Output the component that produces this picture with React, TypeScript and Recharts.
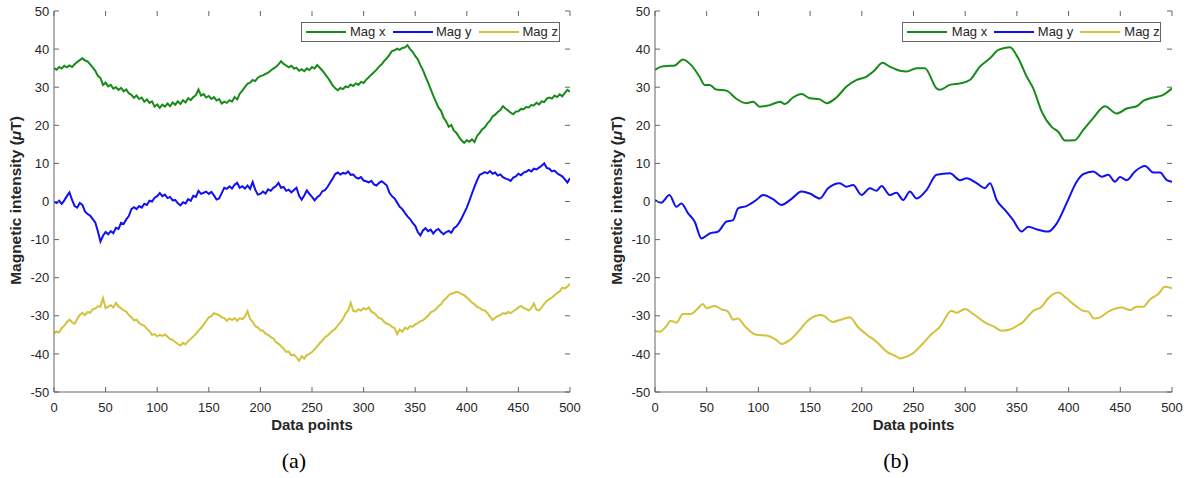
import React from 'react';
import { LineChart, Line, XAxis, YAxis, Legend, Label } from 'recharts';

// ---------- axis ticks ----------
const X_TICKS = [0, 50, 100, 150, 200, 250, 300, 350, 400, 450, 500];
const Y_TICKS = [-50, -40, -30, -20, -10, 0, 10, 20, 30, 40, 50];

// ---------- panel (a): raw samples, read every 2.5 data points ----------
const leftX = Array.from({ length: 201 }, (_, i) => i * 2.5);

const leftMagX = [
  35.0, 34.6, 35.3, 34.9, 35.6, 35.2, 35.7, 35.3, 36.0, 36.6, 37.1, 37.6, 37.0, 36.8, 36.0, 35.2, 34.3, 33.0, 32.4, 30.6,
  31.2, 30.2, 30.6, 29.6, 30.0, 29.3, 29.8, 28.9, 29.4, 28.4, 28.0, 27.2, 27.8, 26.9, 27.3, 26.2, 26.8, 25.9, 26.3, 24.9,
  25.5, 24.6, 25.4, 24.9, 25.7, 25.0, 26.0, 25.4, 26.3, 25.6, 26.6, 26.0, 27.1, 26.6, 27.4, 27.9, 29.4, 27.8, 28.2, 27.3,
  27.7, 26.9, 27.4, 26.5, 26.9, 25.7, 26.2, 25.9, 26.6, 26.2, 27.4, 26.8, 28.3, 29.1, 30.0, 30.9, 31.2, 31.9, 31.6, 32.5,
  32.9, 33.1, 33.5, 33.8, 34.4, 34.9, 35.3, 36.0, 36.8, 36.1, 35.7, 35.2, 35.6, 34.9, 35.1, 34.3, 34.7, 34.2, 34.9, 34.5,
  35.3, 34.9, 35.8, 35.1, 34.4, 33.5, 32.6, 31.6, 30.5, 29.7, 29.2, 29.8, 29.5, 30.2, 30.0, 30.7, 30.3, 31.0, 30.6, 31.4,
  31.1, 32.0, 32.6, 33.3, 33.9, 34.6, 35.4, 36.0, 36.9, 37.6, 38.5, 39.5, 39.7, 40.1, 39.8, 40.3, 40.4, 41.0, 40.0, 39.3,
  38.2, 37.3, 35.8, 34.5, 32.8, 31.2, 29.5, 27.8, 26.2, 24.7, 23.8, 22.0, 21.0, 19.6, 20.1, 18.6, 18.0, 16.9, 16.0, 15.4,
  16.1, 15.7, 16.3, 15.6, 17.2, 18.0, 19.0, 19.5, 20.5, 21.2, 22.3, 22.8, 23.5, 24.0, 25.0, 24.4, 23.9, 23.3, 22.9, 23.6,
  23.7, 24.3, 24.2, 24.8, 24.7, 25.3, 25.2, 25.9, 25.5, 26.3, 26.1, 27.0, 27.3, 27.0, 27.8, 27.4, 28.1, 27.6, 28.5, 29.3,
  28.8,
];

const leftMagY = [
  0.0, -0.4, 0.2, -0.6, 0.3, 1.4, 2.4, 0.4, -1.2, -1.6, -0.4, -0.9, -2.6, -3.3, -3.7, -4.6, -5.5, -7.8, -10.5, -9.0,
  -8.0, -8.6, -7.8, -8.3, -6.9, -7.2, -5.6, -5.9, -4.7, -3.8, -2.0, -1.5, -2.0, -1.2, -1.6, -0.6, -0.9, 0.2, 0.0, 1.0,
  1.4, 2.2, 1.4, 1.8, 0.9, 1.2, 0.3, 0.4, -0.5, -1.0, -0.2, -0.5, 0.6, 0.2, 1.5, 1.2, 2.8, 2.0, 2.3, 2.6,
  2.0, 2.5, 1.6, 0.5, 0.8, 2.2, 3.6, 3.3, 4.0, 3.4, 4.4, 4.9, 3.6, 4.0, 3.4, 4.2, 3.3, 5.1, 3.1, 1.8,
  2.0, 2.6, 2.1, 3.2, 2.8, 3.6, 4.0, 4.9, 3.6, 3.8, 2.8, 3.1, 2.4, 3.0, 3.6, 1.5, 0.5, 1.6, 2.9, 2.0,
  1.2, 0.3, 1.1, 1.6, 2.7, 3.0, 3.8, 4.9, 6.0, 7.2, 7.6, 7.1, 7.5, 7.3, 7.9, 7.0, 7.1, 6.3, 6.0, 6.4,
  5.5, 5.3, 5.0, 5.4, 4.5, 4.2, 4.9, 5.3, 4.8, 4.2, 2.3, 1.4, 0.8, -0.3, -1.4, -2.0, -3.0, -3.9, -4.6, -5.6,
  -6.4, -8.0, -8.9, -7.6, -7.0, -7.8, -7.4, -8.4, -7.6, -7.2, -8.0, -8.6, -8.0, -7.7, -8.2, -7.0, -6.5, -5.6, -4.4, -3.0,
  -1.6, 0.2, 2.1, 3.9, 5.6, 7.0, 7.3, 7.7, 7.4, 8.0, 7.3, 7.6, 6.8, 7.1, 6.4, 6.0, 5.8, 5.4, 6.3, 6.6,
  7.3, 6.9, 7.6, 7.8, 8.3, 7.9, 8.6, 8.4, 8.9, 9.4, 10.0, 8.8, 8.6, 7.9, 8.1, 7.4, 7.0, 6.6, 5.8, 5.0,
  6.1,
];

const leftMagZ = [
  -34.6, -34.1, -34.4, -33.2, -32.6, -31.6, -31.0, -31.7, -32.1, -30.8, -29.8, -29.2, -29.8, -29.0, -29.2, -28.3, -28.1, -27.5, -27.6, -25.4,
  -28.0, -27.6, -27.2, -27.8, -26.6, -27.6, -28.0, -28.6, -28.9, -29.8, -30.4, -31.2, -31.0, -31.9, -32.3, -32.6, -33.4, -34.0, -35.0, -34.8,
  -35.4, -35.0, -35.3, -34.9, -35.5, -36.1, -36.3, -36.9, -37.4, -37.8, -37.1, -37.5, -36.6, -36.1, -35.4, -34.8, -33.9, -33.2, -32.3, -31.3,
  -30.4, -30.1, -29.3, -29.6, -29.8, -30.4, -30.6, -31.3, -30.7, -31.1, -30.6, -31.3, -30.6, -30.9, -30.2, -28.8, -30.8, -31.6, -32.7, -33.0,
  -33.8, -33.9, -34.7, -35.0, -35.6, -35.9, -36.9, -37.3, -38.0, -38.6, -39.5, -39.4, -40.4, -40.2, -40.9, -41.8, -40.6, -41.2, -40.3, -40.0,
  -39.5, -38.8, -38.0, -37.2, -36.5, -35.6, -35.2, -34.5, -33.9, -33.4, -32.5, -31.8, -30.8, -29.4, -28.6, -26.6, -28.7, -28.9, -28.3, -28.6,
  -28.0, -28.3, -27.8, -28.9, -29.2, -29.9, -30.6, -30.8, -31.6, -32.1, -32.3, -32.9, -33.2, -34.8, -33.6, -34.2, -33.1, -33.5, -32.7, -32.9,
  -32.2, -32.0, -31.4, -31.2, -30.6, -30.0, -29.1, -28.8, -28.3, -27.5, -27.0, -26.0, -25.4, -24.6, -24.2, -24.0, -23.7, -23.9, -24.3, -24.6,
  -25.2, -25.8, -26.5, -27.0, -27.7, -27.9, -28.5, -28.6, -29.3, -30.2, -31.1, -30.5, -30.1, -29.8, -29.3, -29.5, -29.0, -29.3, -28.8, -28.4,
  -27.8, -27.4, -27.9, -28.2, -28.6, -28.0, -26.8, -28.4, -28.6, -27.8, -26.9, -26.1, -25.6, -25.2, -24.6, -24.0, -23.6, -22.6, -22.8, -22.3,
  -21.6,
];

// ---------- panel (b): filtered signal, [data point, value] ----------
const rightMagX: [number, number][] = [
  [0, 34.5], [6, 35.4], [14, 35.6], [19, 35.7], [27, 37.3], [35, 35.8], [43, 32.8], [48, 30.6], [53, 30.6], [59, 29.4],
  [69, 29.1], [79, 26.9], [88, 25.8], [95, 26.2], [101, 24.9], [111, 25.3], [121, 26.2], [125.5, 25.6], [133.5, 27.3], [141.7, 28.2],
  [149.7, 27.1], [159.4, 26.8], [166, 25.8], [175.5, 27.3], [185, 30.1], [195, 31.9], [204.6, 32.8], [212.6, 34.5], [220, 36.4], [227, 35.4],
  [237, 34.3], [243.3, 34.1], [253, 35.0], [261, 35.0], [272.3, 29.7], [275.5, 29.3], [285.2, 30.6], [295, 31.0], [304.5, 31.9], [314.2, 35.4],
  [324, 37.6], [332, 39.8], [343.2, 40.5], [351.3, 37.6], [359.4, 32.8], [365.8, 29.7], [374, 23.6], [383.6, 19.6], [390, 18.3], [396.5, 16.0],
  [406, 16.1], [414.2, 18.8], [423.8, 21.9], [435.2, 25.0], [446.5, 23.1], [456.2, 24.4], [465.8, 25.0], [472.2, 26.4], [482, 27.3], [491.6, 28.0],
  [500, 29.7],
];

const rightMagY: [number, number][] = [
  [0, 0.4], [6, -0.3], [14, 1.7], [20.7, -1.4], [25.5, -0.5], [32, -3.1], [38.4, -5.3], [44.9, -9.7], [52.9, -8.4], [61, -7.9],
  [69, -5.3], [75.5, -4.9], [80.3, -1.8], [88.4, -1.2], [98, 0.4], [104.5, 1.7], [114.2, 0.6], [122.3, -0.9], [132, 0.7], [141.7, 2.6],
  [149.7, 2.1], [159.4, 0.8], [167.4, 3.5], [178.7, 4.8], [185.2, 3.9], [191.6, 4.3], [199.7, 1.7], [207.8, 3.5], [214.2, 2.8], [219.1, 4.1],
  [227.1, 1.7], [233.6, 2.3], [240, 0.4], [246.5, 2.6], [253, 0.8], [262.6, 3.0], [272.3, 7.0], [285.2, 7.4], [295, 5.6], [301.3, 6.1],
  [311, 4.8], [319, 3.5], [324, 4.8], [330.4, 0.4], [338.4, -2.2], [346.4, -4.9], [354.5, -7.9], [361, -6.6], [369, -7.3], [380.3, -7.9],
  [388.4, -5.8], [398, -0.5], [407.8, 5.2], [414.2, 7.2], [423.8, 7.9], [432, 6.5], [438.4, 7.0], [444.8, 5.2], [449.7, 6.4], [456.2, 5.6],
  [464.2, 7.9], [474, 9.3], [482, 7.6], [488.4, 7.6], [495, 5.6], [500, 5.2],
];

const rightMagZ: [number, number][] = [
  [0, -33.9], [4.5, -34.2], [11, -32.7], [15, -31.3], [20.7, -31.8], [27, -29.5], [35, -29.5], [40, -28.5], [46.4, -26.9], [49.7, -28.0],
  [57.8, -27.4], [64.2, -28.3], [70.6, -28.9], [75.5, -31.0], [80.3, -30.7], [86.8, -32.7], [98, -35.0], [107.8, -35.2], [117.5, -36.4], [122.3, -37.4],
  [130.3, -36.4], [140, -33.7], [146.5, -31.6], [154.5, -30.1], [161, -29.8], [172.2, -31.6], [178.7, -31.1], [188.4, -30.4], [196.4, -33.0], [204.6, -34.9],
  [214.2, -36.8], [224, -39.4], [233.6, -40.7], [237, -41.2], [243.3, -40.7], [249.7, -39.8], [259.3, -37.2], [267.5, -34.8], [275.5, -32.9], [286.8, -28.7],
  [291.7, -29.2], [299.7, -28.2], [307.7, -29.5], [320.7, -32.0], [327, -32.7], [335.2, -33.9], [343.2, -33.6], [349.7, -32.7], [356, -31.6], [365.8, -28.7],
  [374, -27.6], [380.3, -25.4], [390, -23.9], [398, -25.4], [406, -27.2], [414.2, -28.7], [419, -28.9], [424.5, -30.7], [430.3, -30.4], [438.4, -28.9],
  [451.3, -27.8], [459.4, -28.5], [465.8, -27.6], [472.2, -27.6], [478.7, -25.7], [486.7, -24.3], [493.2, -22.4], [500, -22.8],
];

const SERIES_NAMES = ['Mag x', 'Mag y', 'Mag z'];
const SERIES_COLORS = ['#178a17', '#1010f0', '#d2c23c'];

// ---------- styling ----------
const SANS = '"Liberation Sans", Arial, Helvetica, sans-serif';
const SERIF = '"Liberation Serif", "Times New Roman", serif';
const AXIS_COLOR = '#646464';
const TEXT_COLOR = '#262626';
const CHART_H = 478;
const PLOT_TOP = 11;
const PLOT_BOTTOM = 392;
const PLOT_LEFT = 54;
const Y_AXIS_W = 54;
const X_AXIS_H = 30;
const TICK_LEN = 5;

const leftRows = leftX.map((x, i) => ({ x, mx: leftMagX[i], my: leftMagY[i], mz: leftMagZ[i] }));
const toPts = (arr: [number, number][]) => arr.map(([x, v]) => ({ x, v }));

const YLabel = (props: any) => {
  const vb = props.viewBox || {};
  const cx = (vb.x || 0) + 21;
  const cy = (vb.y || 0) + (vb.height || 0) / 2 - 1;
  return (
    <text
      x={cx}
      y={cy}
      transform={`rotate(-90, ${cx}, ${cy})`}
      textAnchor="middle"
      fontFamily={SANS}
      fontSize={15.5}
      fontWeight="bold"
      fill={TEXT_COLOR}
    >
      Magnetic intensity (<tspan fontStyle="italic">μ</tspan>T)
    </text>
  );
};

const XLabel = (props: any) => {
  const vb = props.viewBox || {};
  return (
    <text
      x={(vb.x || 0) + (vb.width || 0) / 2}
      y={(vb.y || 0) + 38}
      textAnchor="middle"
      fontFamily={SANS}
      fontSize={15}
      fontWeight="bold"
      fill={TEXT_COLOR}
    >
      Data points
    </text>
  );
};

// Bottom-axis tick: label plus inward tick marks on bottom and top frame edges.
const XTick = (props: any) => {
  const x = props.x;
  return (
    <g>
      <line x1={x} x2={x} y1={PLOT_BOTTOM} y2={PLOT_BOTTOM - TICK_LEN} stroke={AXIS_COLOR} strokeWidth={1} />
      <line x1={x} x2={x} y1={PLOT_TOP} y2={PLOT_TOP + TICK_LEN} stroke={AXIS_COLOR} strokeWidth={1} />
      <text x={x} y={PLOT_BOTTOM + 19.5} textAnchor="middle" fontFamily={SANS} fontSize={13} fill={TEXT_COLOR}>
        {props.payload?.value}
      </text>
    </g>
  );
};

// Left-axis tick: label plus inward tick marks on left and right frame edges.
const makeYTick = (plotRight: number) => (props: any) => {
  const y = props.y;
  return (
    <g>
      <line x1={PLOT_LEFT} x2={PLOT_LEFT + TICK_LEN} y1={y} y2={y} stroke={AXIS_COLOR} strokeWidth={1} />
      <line x1={plotRight} x2={plotRight - TICK_LEN} y1={y} y2={y} stroke={AXIS_COLOR} strokeWidth={1} />
      <text x={PLOT_LEFT - 4.8} y={y} dy="0.36em" textAnchor="end" fontFamily={SANS} fontSize={13} fill={TEXT_COLOR}>
        {props.payload?.value}
      </text>
    </g>
  );
};

const LINE_LEFTS = [4, 91, 177];
const TEXT_LEFTS = [48.5, 134.5, 221];

const LegendBox = (props: any) => {
  const payload = props.payload || [];
  return (
    <div
      style={{
        position: 'relative',
        width: 259,
        height: 20,
        border: `1px solid ${AXIS_COLOR}`,
        boxSizing: 'border-box',
        background: '#fff',
        fontFamily: SANS,
        fontSize: 13,
        color: TEXT_COLOR,
      }}
    >
      {payload.map((entry: any, i: number) => (
        <React.Fragment key={String(entry.value)}>
          <div
            style={{
              position: 'absolute',
              left: LINE_LEFTS[i],
              top: 8,
              width: 40,
              height: 2,
              background: entry.color,
            }}
          />
          <span
            style={{
              position: 'absolute',
              left: TEXT_LEFTS[i],
              top: 1,
              lineHeight: '16px',
              whiteSpace: 'nowrap',
            }}
          >
            {entry.value}
          </span>
        </React.Fragment>
      ))}
    </div>
  );
};

function Axes(plotRight: number) {
  const YTick = makeYTick(plotRight);
  return [
    <XAxis
      key="xb"
      dataKey="x"
      type="number"
      domain={[0, 500]}
      ticks={X_TICKS}
      interval={0}
      allowDataOverflow
      height={X_AXIS_H}
      tickSize={0}
      tickMargin={0}
      stroke={AXIS_COLOR}
      tickLine={false}
      tick={XTick}
    >
      <Label content={XLabel} />
    </XAxis>,
    <XAxis
      key="xt"
      xAxisId="top"
      orientation="top"
      dataKey="x"
      type="number"
      domain={[0, 500]}
      ticks={X_TICKS}
      allowDataOverflow
      height={0}
      tickLine={false}
      tick={false}
      stroke={AXIS_COLOR}
    />,
    <YAxis
      key="yl"
      type="number"
      domain={[-50, 50]}
      ticks={Y_TICKS}
      interval={0}
      allowDataOverflow
      width={Y_AXIS_W}
      tickSize={0}
      tickMargin={0}
      stroke={AXIS_COLOR}
      tickLine={false}
      tick={YTick}
    >
      <Label content={YLabel} />
    </YAxis>,
    <YAxis
      key="yr"
      yAxisId="right"
      orientation="right"
      type="number"
      domain={[-50, 50]}
      ticks={Y_TICKS}
      allowDataOverflow
      width={0}
      tickLine={false}
      tick={false}
      stroke={AXIS_COLOR}
    />,
  ];
}

function PanelA() {
  const W = 600;
  const plotRight = 570;
  return (
    <LineChart
      width={W}
      height={CHART_H}
      data={leftRows}
      margin={{ top: PLOT_TOP, left: 0, right: W - plotRight, bottom: CHART_H - PLOT_BOTTOM - X_AXIS_H }}
    >
      {Axes(plotRight)}
      <Legend
        layout="vertical"
        align="center"
        verticalAlign="middle"
        content={LegendBox}
        wrapperStyle={{ left: 300.5, top: 22, width: 259, height: 20 }}
      />
      <Line dataKey="mx" name={SERIES_NAMES[0]} stroke={SERIES_COLORS[0]} strokeWidth={2} dot={false} type="linear" isAnimationActive={false} />
      <Line dataKey="my" name={SERIES_NAMES[1]} stroke={SERIES_COLORS[1]} strokeWidth={2} dot={false} type="linear" isAnimationActive={false} />
      <Line dataKey="mz" name={SERIES_NAMES[2]} stroke={SERIES_COLORS[2]} strokeWidth={2} dot={false} type="linear" isAnimationActive={false} />
    </LineChart>
  );
}

function PanelB() {
  const W = 590;
  const LEFT = 601;
  const plotRight = 1172 - LEFT;
  return (
    <LineChart
      width={W}
      height={CHART_H}
      margin={{ top: PLOT_TOP, left: 0, right: W - plotRight, bottom: CHART_H - PLOT_BOTTOM - X_AXIS_H }}
    >
      {Axes(plotRight)}
      <Legend
        layout="vertical"
        align="center"
        verticalAlign="middle"
        content={LegendBox}
        wrapperStyle={{ left: 902.3 - LEFT, top: 22, width: 259, height: 20 }}
      />
      <Line data={toPts(rightMagX)} dataKey="v" name={SERIES_NAMES[0]} stroke={SERIES_COLORS[0]} strokeWidth={2} dot={false} type="monotone" isAnimationActive={false} />
      <Line data={toPts(rightMagY)} dataKey="v" name={SERIES_NAMES[1]} stroke={SERIES_COLORS[1]} strokeWidth={2} dot={false} type="monotone" isAnimationActive={false} />
      <Line data={toPts(rightMagZ)} dataKey="v" name={SERIES_NAMES[2]} stroke={SERIES_COLORS[2]} strokeWidth={2} dot={false} type="monotone" isAnimationActive={false} />
    </LineChart>
  );
}

const captionStyle: React.CSSProperties = {
  position: 'absolute',
  top: 449,
  width: 60,
  textAlign: 'center',
  fontFamily: SERIF,
  fontSize: 22,
  lineHeight: '24px',
  color: '#000',
};

export default function App() {
  return (
    <div style={{ position: 'absolute', left: 0, top: 0, width: 1191, height: 478, background: '#fff', overflow: 'hidden' }}>
      <div style={{ position: 'absolute', left: 0, top: 0 }}>
        <PanelA />
      </div>
      <div style={{ position: 'absolute', left: 601, top: 0 }}>
        <PanelB />
      </div>
      <div style={{ ...captionStyle, left: 294 - 30 }}>(a)</div>
      <div style={{ ...captionStyle, left: 896 - 30 }}>(b)</div>
    </div>
  );
}
